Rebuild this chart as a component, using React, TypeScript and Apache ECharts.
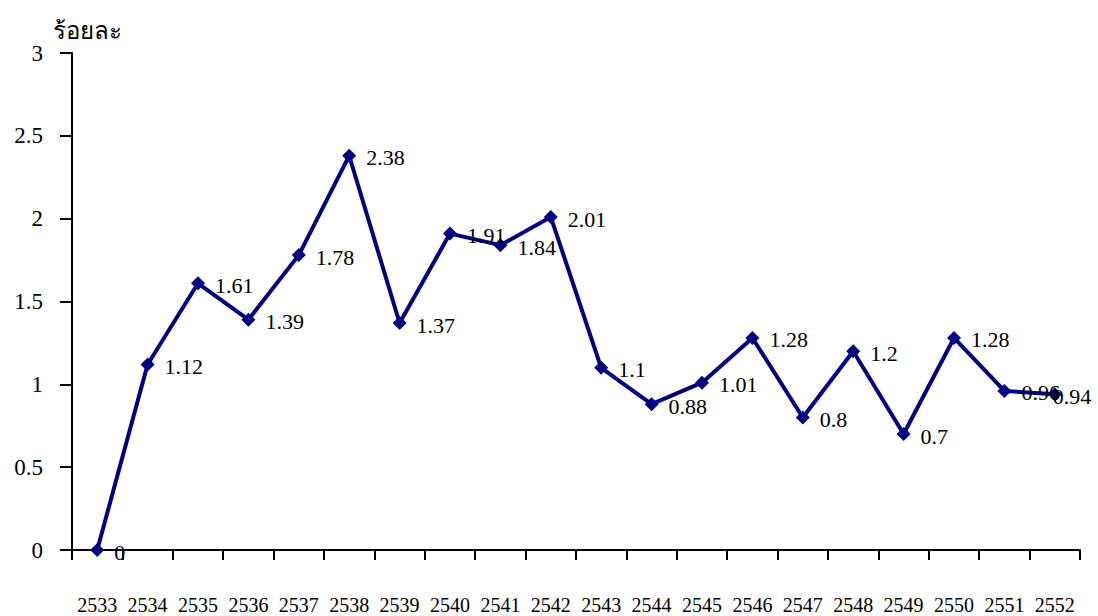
import React, { useEffect, useRef } from "react";
import * as echarts from "echarts";

const years = ["2533","2534","2535","2536","2537","2538","2539","2540","2541","2542","2543","2544","2545","2546","2547","2548","2549","2550","2551","2552"];
const values = [0, 1.12, 1.61, 1.39, 1.78, 2.38, 1.37, 1.91, 1.84, 2.01, 1.1, 0.88, 1.01, 1.28, 0.8, 1.2, 0.7, 1.28, 0.96, 0.94];
const yAxisName = "ร้อยละ";

const FONT = "Liberation Serif, Times New Roman, serif";

export default function App() {
  const ref = useRef<HTMLDivElement>(null);
  useEffect(() => {
    if (!ref.current) return;
    const chart = echarts.init(ref.current, undefined, { renderer: "svg" });
    const seriesData = values.map((v, i) =>
      i === values.length - 1
        ? { value: v, label: { offset: [-19, 2] } }
        : v
    );
    chart.setOption({
      animation: false,
      backgroundColor: "#ffffff",
      textStyle: { fontFamily: FONT },
      grid: { left: 72, right: 18, top: 53, bottom: 66, containLabel: false },
      graphic: [
        {
          type: "text",
          left: 53,
          top: 19,
          style: { text: yAxisName, fontSize: 24, fontFamily: FONT, fill: "#000" },
        },
      ],
      xAxis: {
        type: "category",
        data: years,
        boundaryGap: true,
        axisLine: { lineStyle: { color: "#000", width: 2 } },
        axisTick: { show: true, length: 10, lineStyle: { color: "#000", width: 2 } },
        axisLabel: { color: "#000", fontFamily: FONT, fontSize: 20, margin: 45, interval: 0 },
        splitLine: { show: false },
      },
      yAxis: {
        type: "value",
        min: 0,
        max: 3,
        interval: 0.5,
        axisLine: { show: true, lineStyle: { color: "#000", width: 2 } },
        axisTick: { show: true, length: 12, lineStyle: { color: "#000", width: 2 } },
        axisLabel: { color: "#000", fontFamily: FONT, fontSize: 23, margin: 29 },
        splitLine: { show: false },
      },
      series: [
        {
          type: "line",
          data: seriesData,
          symbol: "diamond",
          symbolSize: 14,
          lineStyle: { color: "#000080", width: 4 },
          itemStyle: { color: "#000080" },
          label: {
            show: true,
            position: "right",
            distance: 10,
            color: "#000",
            fontFamily: FONT,
            fontSize: 22,
            offset: [0, 2],
          },
          z: 3,
        },
      ],
    });
    return () => chart.dispose();
  }, []);
  return <div ref={ref} style={{ width: 1098, height: 616, position: "absolute", left: 0, top: 0 }} />;
}
